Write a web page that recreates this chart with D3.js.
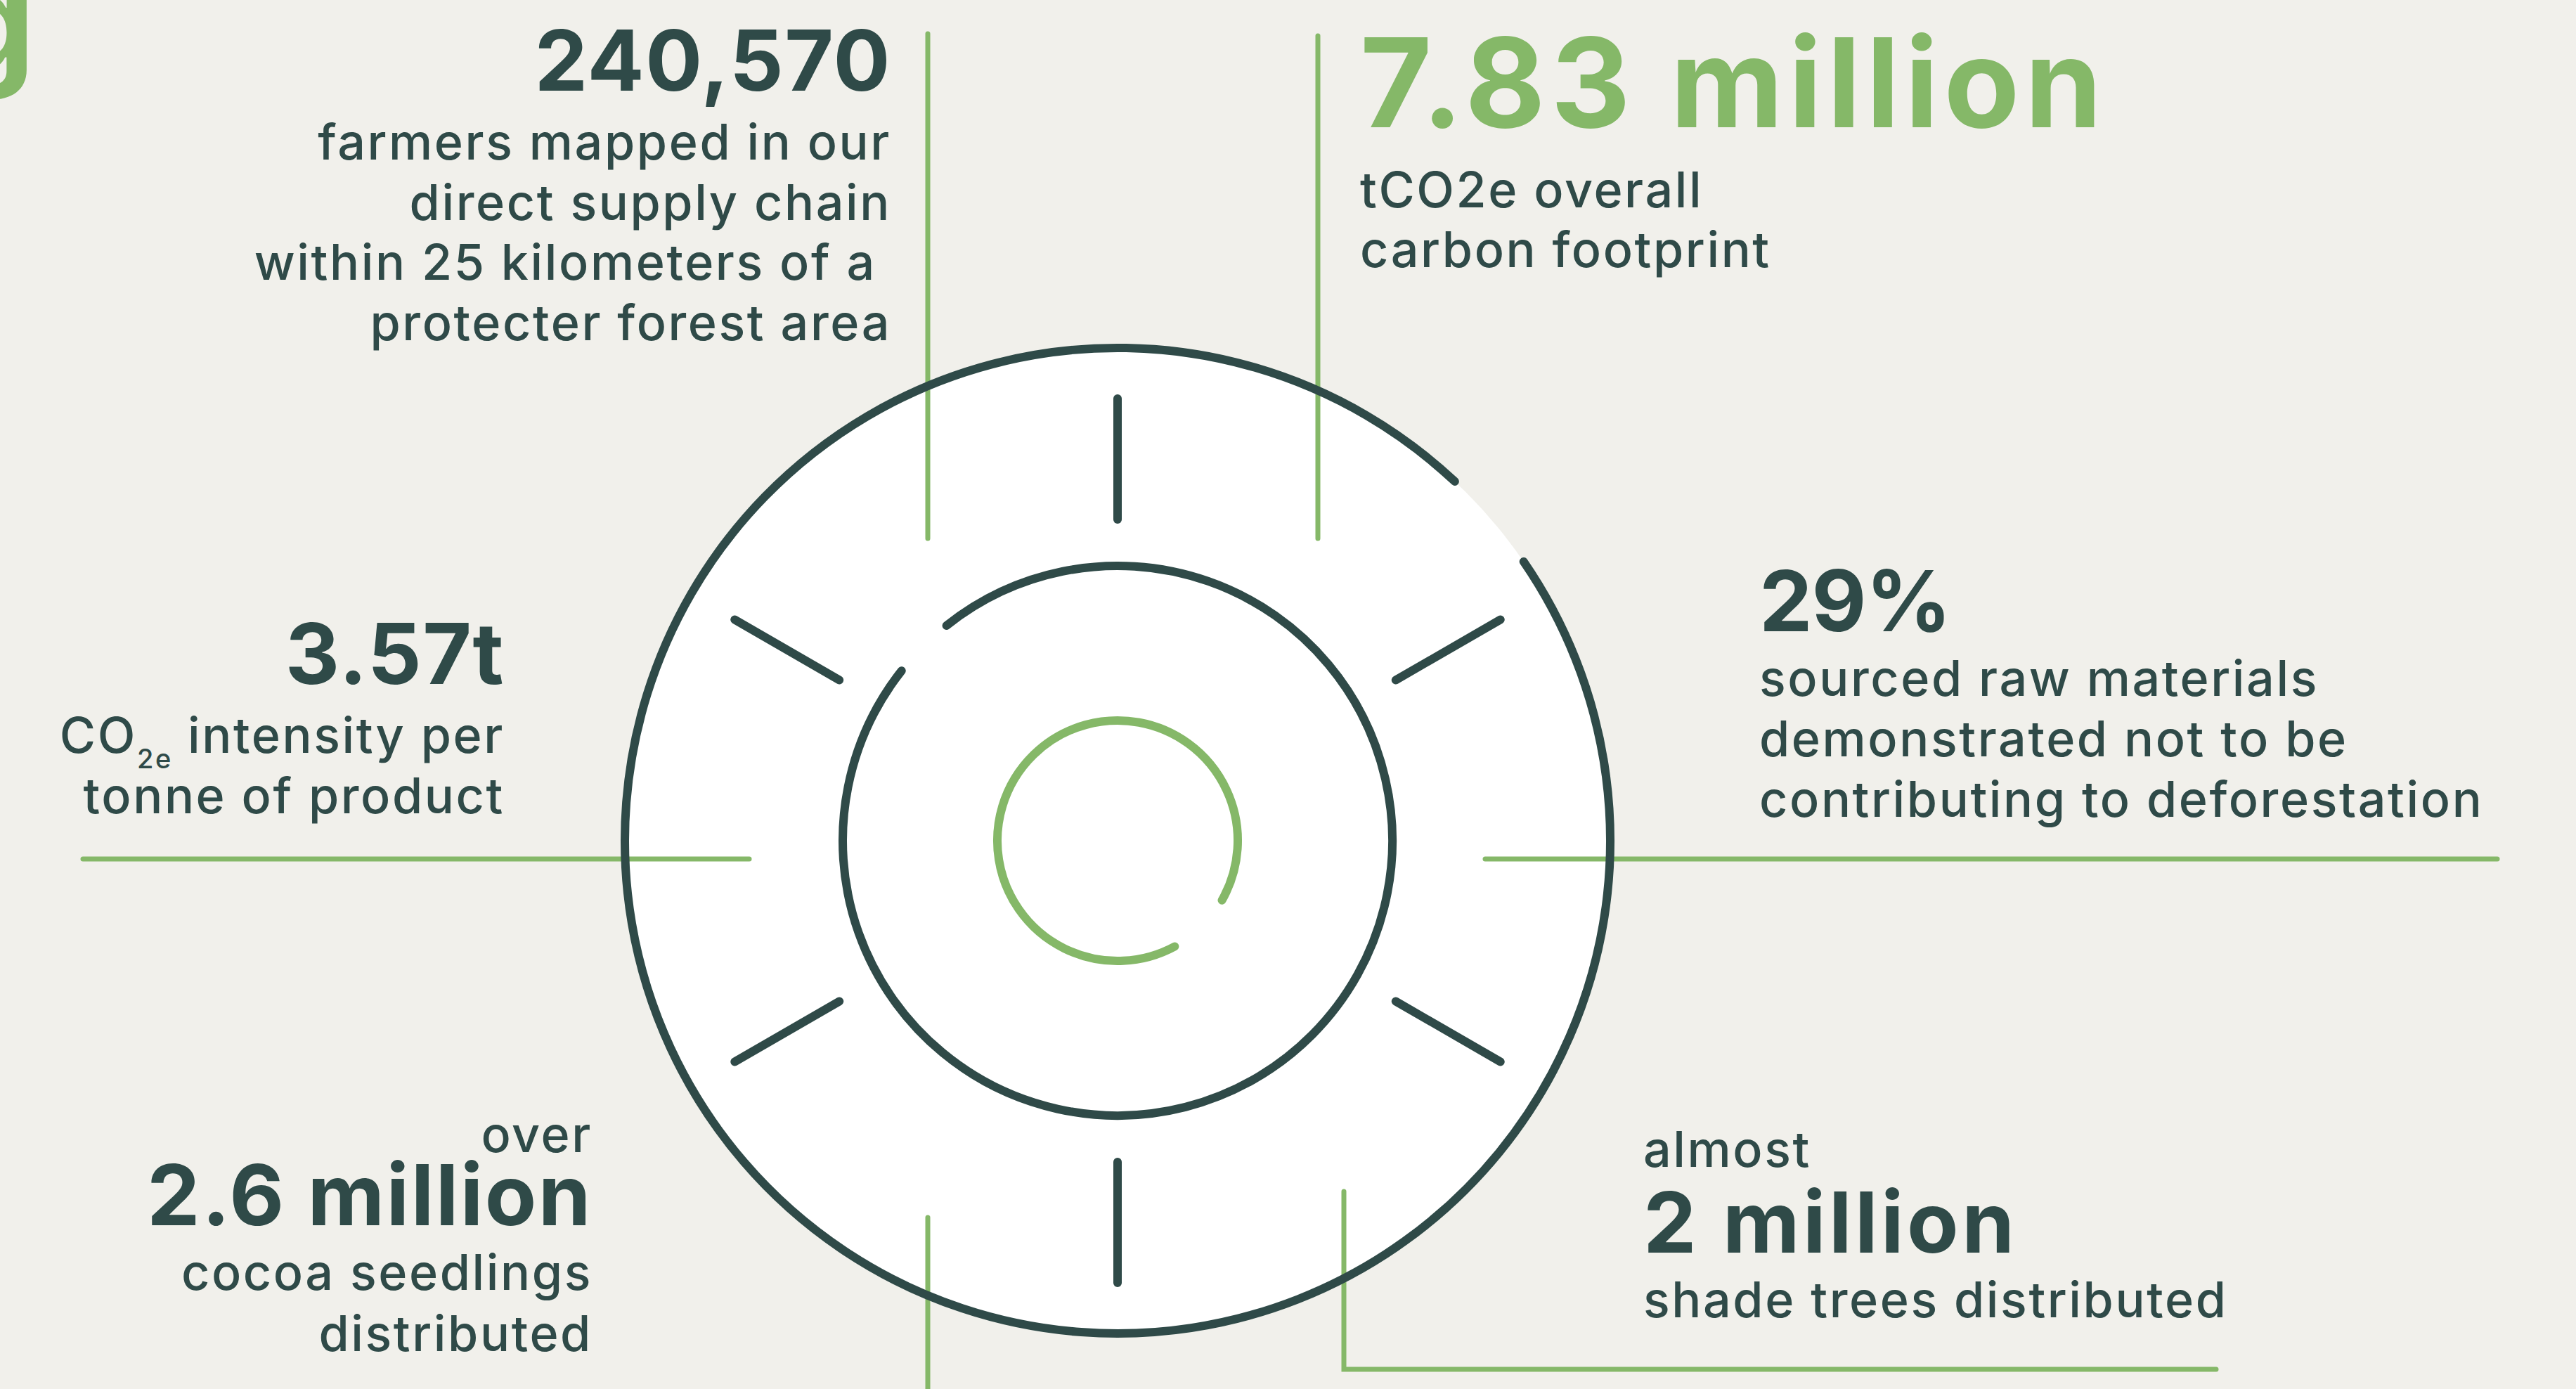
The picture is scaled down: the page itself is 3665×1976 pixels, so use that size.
<!DOCTYPE html>
<html>
<head>
<meta charset="utf-8">
<script src="https://cdn.jsdelivr.net/npm/d3@7/dist/d3.min.js"></script>
<style>
  html, body { margin: 0; padding: 0; background: #f1f0eb; }
  svg { display: block; }
  text { font-family: Inter, "Noto Sans", sans-serif; }
</style>
</head>
<body>
<svg id="chart"></svg>
<script>
// ---------------- DATA ----------------
const statValues = ["240,570", "7.83 million", "3.57t", "29%", "2.6 million", "2 million"];
const statPrefixes = ["", "", "", "", "over", "almost"];
const statDescriptions = [
  ["farmers mapped in our", "direct supply chain", "within 25 kilometers of a ", "protecter forest area"],
  ["tCO2e overall", "carbon footprint"],
  ["CO|2e| intensity per", "tonne of product"],
  ["sourced raw materials", "demonstrated not to be", "contributing to deforestation"],
  ["cocoa seedlings", "distributed"],
  ["shade trees distributed"]
];
const statHighlight = [false, true, false, false, false, false];
const headingFragment = "g";

// ---------------- LAYOUT ----------------
const W = 3665, H = 1976;
const C = { dark: "#2f4a48", green: "#85b868", bg: "#f1f0eb", white: "#ffffff" };
const center = [1590, 1196];
const blocks = [
  { x: 1268, anchor: "end",   prefixY: null, valueY: 129, valueSize: 120, valueSpacing: 1.5, lineY: [227, 313, 398, 484] },
  { x: 1935, anchor: "start", prefixY: null, valueY: 181, valueSize: 176, valueSpacing: 7.5, lineY: [295, 380] },
  { x: 718,  anchor: "end",   prefixY: null, valueY: 973, valueSize: 120, valueSpacing: 1.5, lineY: [1071, 1157] },
  { x: 2503, anchor: "start", prefixY: null, valueY: 898, valueSize: 120, valueSpacing: -1,  lineY: [990, 1076, 1162] },
  { x: 843,  anchor: "end",   prefixY: 1639, valueY: 1743, valueSize: 120, valueSpacing: 2.5, lineY: [1835, 1922] },
  { x: 2338, anchor: "start", prefixY: 1660, valueY: 1782, valueSize: 120, valueSpacing: 4.5, lineY: [1874] }
];
const bodySize = 70, bodySpacing = 2.6, bodyWeight = 500;

// ring geometry (screen angles in degrees, clockwise from +x)
const rings = [
  { r: 701, a0: -34.5, a1: 313.2, color: C.dark,  width: 12 },
  { r: 391, a0: -128.5, a1: 218.2, color: C.dark, width: 12 },
  { r: 171, a0: 61.6,  a1: 389.7, color: C.green, width: 12 }
];
const spokeAngles = [-30, -90, -150, 150, 90, 30];
const spokeR = [457, 629];

// connector lines (green)
const connectors = [
  [[1320, 48], [1320, 766]],
  [[1875, 51], [1875, 766]],
  [[118, 1222], [1066, 1222]],
  [[2113, 1222], [3553, 1222]],
  [[1320, 1732], [1320, 1990]],
  [[1912, 1695], [1912, 1948], [3153, 1948]]
];

// ---------------- DRAW ----------------
const svg = d3.select("#chart").attr("width", W).attr("height", H).attr("viewBox", `0 0 ${W} ${H}`);
svg.append("rect").attr("width", W).attr("height", H).attr("fill", C.bg);

const rad = d => d * Math.PI / 180;
const g = svg.append("g");

// white disc
g.append("circle").attr("cx", center[0]).attr("cy", center[1]).attr("r", rings[0].r).attr("fill", C.white);

// green connector lines
const line = d3.line();
g.selectAll("path.conn").data(connectors).join("path")
  .attr("class", "conn")
  .attr("d", d => line(d))
  .attr("fill", "none").attr("stroke", C.green).attr("stroke-width", 7)
  .attr("stroke-linecap", "round").attr("stroke-linejoin", "miter");

// rings
g.selectAll("path.ring").data(rings).join("path")
  .attr("class", "ring")
  .attr("d", d => { const p = d3.path(); p.arc(center[0], center[1], d.r, rad(d.a0), rad(d.a1), false); return p.toString(); })
  .attr("fill", "none").attr("stroke", d => d.color).attr("stroke-width", d => d.width)
  .attr("stroke-linecap", "round");

// spokes
g.selectAll("line.spoke").data(spokeAngles).join("line")
  .attr("class", "spoke")
  .attr("x1", a => center[0] + spokeR[0] * Math.cos(rad(a)))
  .attr("y1", a => center[1] + spokeR[0] * Math.sin(rad(a)))
  .attr("x2", a => center[0] + spokeR[1] * Math.cos(rad(a)))
  .attr("y2", a => center[1] + spokeR[1] * Math.sin(rad(a)))
  .attr("stroke", C.dark).attr("stroke-width", 12).attr("stroke-linecap", "round");

// heading fragment (cut off at the left edge, as in the source page)
svg.append("text").attr("x", 50).attr("y", 100).attr("text-anchor", "end")
  .attr("font-size", 196).attr("font-weight", 700).attr("fill", C.green).text(headingFragment);

// stat blocks
blocks.forEach((b, i) => {
  const grp = svg.append("g");
  if (b.prefixY !== null && statPrefixes[i]) {
    grp.append("text").attr("x", b.x).attr("y", b.prefixY).attr("text-anchor", b.anchor)
      .attr("font-size", bodySize).attr("font-weight", bodyWeight).attr("letter-spacing", bodySpacing)
      .attr("fill", C.dark).text(statPrefixes[i]);
  }
  grp.append("text").attr("x", b.x).attr("y", b.valueY).attr("text-anchor", b.anchor)
    .attr("font-size", b.valueSize).attr("font-weight", 700).attr("letter-spacing", b.valueSpacing)
    .attr("fill", statHighlight[i] ? C.green : C.dark)
    .text(statValues[i]);
  statDescriptions[i].forEach((ln, j) => {
    const t = grp.append("text").attr("x", b.x).attr("y", b.lineY[j]).attr("text-anchor", b.anchor)
      .attr("font-size", bodySize).attr("font-weight", bodyWeight).attr("letter-spacing", bodySpacing)
      .attr("fill", C.dark).style("white-space", "pre");
    const parts = ln.split("|");
    if (parts.length === 3) {
      t.append("tspan").text(parts[0]);
      t.append("tspan").attr("font-size", 38).attr("dy", 22).text(parts[1]);
      t.append("tspan").attr("dy", -22).text(parts[2]);
    } else {
      t.text(ln);
    }
  });
});
</script>
</body>
</html>
